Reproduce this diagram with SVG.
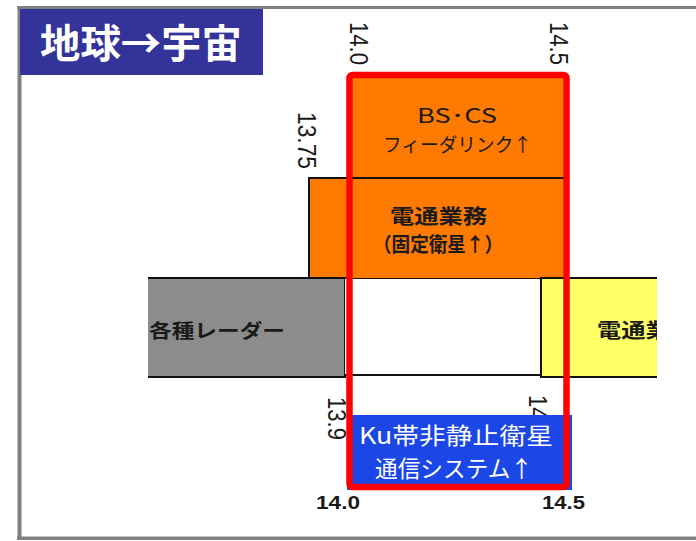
<svg xmlns="http://www.w3.org/2000/svg" width="696" height="541" viewBox="0 0 696 541">
  <style>
    .jp { font-family: "Noto Sans CJK JP", "Noto Sans", sans-serif; }
    .num { font-family: "Liberation Sans", Arial, sans-serif; }
    .dark { fill: #1a1a1a; }
    .edge { stroke: #111; stroke-width: 2; fill: none; }
  </style>
  <defs>
    <clipPath id="clipRight"><rect x="0" y="0" width="657" height="541"/></clipPath>
  </defs>
  <rect width="696" height="541" fill="#ffffff"/>

  <!-- outer frame -->
  <g id="frame" stroke="#808080" fill="none">
    <line x1="17" y1="7.5" x2="696" y2="7.5" stroke-width="3"/>
    <line x1="19.5" y1="6" x2="19.5" y2="540" stroke-width="4"/>
    <line x1="17" y1="538.3" x2="696" y2="538.3" stroke-width="3.5"/>
  </g>

  <!-- title -->
  <g id="title">
    <rect x="20" y="9" width="243" height="66" fill="#333399"/>
    <text class="jp" x="40" y="58" font-size="40" font-weight="bold" fill="#ffffff" textLength="202" lengthAdjust="spacingAndGlyphs">地球→宇宙</text>
  </g>

  <!-- bands -->
  <g id="band-bscs">
    <rect x="349" y="75" width="217" height="103" fill="#ff7a00" stroke="#111" stroke-width="1.5"/>
    <text class="jp dark" x="417" y="123" font-size="20" textLength="80" lengthAdjust="spacingAndGlyphs">BS･CS</text>
    <text class="jp dark" x="383" y="152" font-size="19" textLength="149" lengthAdjust="spacingAndGlyphs">フィーダリンク↑</text>
  </g>

  <g id="band-fixed">
    <rect x="309" y="178" width="257" height="101" fill="#ff7a00" stroke="#111" stroke-width="2"/>
    <text class="jp dark" x="390" y="224" font-size="20" font-weight="bold" textLength="97" lengthAdjust="spacingAndGlyphs">電通業務</text>
    <text class="jp dark" x="373" y="252" font-size="20" font-weight="bold" textLength="130" lengthAdjust="spacingAndGlyphs">（固定衛星↑）</text>
  </g>

  <g id="band-radar">
    <rect x="148" y="278" width="197" height="99" fill="#8c8c8c"/>
    <polyline class="edge" points="148,278 345,278 345,377 148,377"/>
    <text class="jp dark" x="149" y="338" font-size="19" font-weight="bold" textLength="136" lengthAdjust="spacingAndGlyphs">各種レーダー</text>
  </g>

  <g id="band-empty">
    <rect x="345" y="279" width="196" height="96" fill="#ffffff"/>
    <line class="edge" x1="345" y1="375" x2="541" y2="375"/>
  </g>

  <g id="band-yellow">
    <rect x="541" y="278" width="116" height="99" fill="#ffff66"/>
    <polyline class="edge" points="657,278 541,278 541,377 657,377"/>
    <text class="jp dark" x="597" y="338" font-size="20" font-weight="bold" textLength="97" lengthAdjust="spacingAndGlyphs" clip-path="url(#clipRight)">電通業務</text>
  </g>

  <!-- rotated frequency labels -->
  <g id="freq-labels" class="num" font-size="21" fill="#1a1a1a">
    <text transform="translate(350,22) scale(1.2,1) rotate(90)" textLength="43" lengthAdjust="spacingAndGlyphs">14.0</text>
    <text transform="translate(550,22) scale(1.2,1) rotate(90)" textLength="43" lengthAdjust="spacingAndGlyphs">14.5</text>
    <text transform="translate(298,112) scale(1.2,1) rotate(90)" textLength="57" lengthAdjust="spacingAndGlyphs">13.75</text>
    <text transform="translate(328,397) scale(1.2,1) rotate(90)" textLength="43" lengthAdjust="spacingAndGlyphs">13.9</text>
    <text transform="translate(529,395) scale(1.2,1) rotate(90)" textLength="43" lengthAdjust="spacingAndGlyphs">14.5</text>
  </g>

  <!-- Ku band label -->
  <g id="ku-label">
    <rect x="347" y="415" width="225" height="75" fill="#1a47e5"/>
    <text class="jp" x="359" y="444" font-size="23" fill="#ffffff" textLength="194" lengthAdjust="spacingAndGlyphs">Ku帯非静止衛星</text>
    <text class="jp" x="375" y="477" font-size="23" fill="#ffffff" textLength="158" lengthAdjust="spacingAndGlyphs">通信システム↑</text>
  </g>

  <!-- red highlight -->
  <g id="highlight">
    <rect x="349.5" y="75" width="217" height="412" rx="3" fill="none" stroke="#ff0000" stroke-width="6.5"/>
  </g>

  <!-- bottom axis labels -->
  <g id="axis-labels" class="num" font-size="18" font-weight="bold" fill="#1a1a1a">
    <text x="316" y="509" textLength="44" lengthAdjust="spacingAndGlyphs">14.0</text>
    <text x="542" y="509" textLength="43" lengthAdjust="spacingAndGlyphs">14.5</text>
  </g>
</svg>
